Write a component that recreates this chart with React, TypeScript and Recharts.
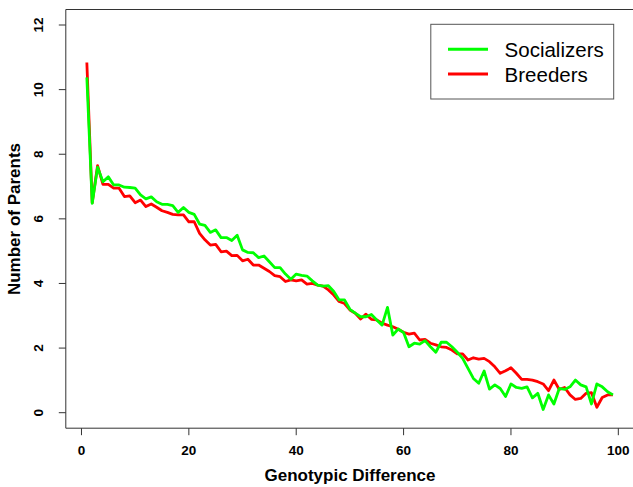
import React from "react";
import { LineChart, Line, XAxis, YAxis, ReferenceArea, Customized } from "recharts";

const diffs = Array.from({ length: 99 }, (_, i) => i + 1);

const socializers = [
  10.38, 6.48, 7.6, 7.15, 7.3, 7.05, 7.05, 6.98, 6.97, 6.95,
  6.74, 6.62, 6.68, 6.53, 6.45, 6.45, 6.41, 6.2, 6.35, 6.2,
  6.14, 5.84, 5.8, 5.58, 5.66, 5.42, 5.42, 5.33, 5.49, 5.04,
  4.96, 4.95, 4.8, 4.85, 4.67, 4.49, 4.49, 4.29, 4.13, 4.29,
  4.25, 4.23, 4.08, 3.95, 3.92, 3.93, 3.75, 3.49, 3.49, 3.2,
  3.08, 2.97, 2.97, 3.04, 2.87, 2.71, 3.26, 2.4, 2.59, 2.48,
  2.04, 2.15, 2.12, 2.23, 2.04, 1.87, 2.18, 2.18, 2.04, 1.87,
  1.68, 1.37, 1.06, 0.91, 1.29, 0.73, 0.86, 0.75, 0.5, 0.89,
  0.78, 0.75, 0.8, 0.46, 0.6, 0.1, 0.55, 0.27, 0.75, 0.72,
  0.8, 1.01, 0.86, 0.8, 0.27, 0.89, 0.8, 0.65, 0.55,
];

const breeders = [
  10.84, 6.5, 7.65, 7.07, 7.07, 6.95, 6.95, 6.69, 6.71, 6.5,
  6.58, 6.38, 6.46, 6.36, 6.25, 6.2, 6.14, 6.12, 6.12, 5.91,
  5.91, 5.55, 5.35, 5.19, 5.21, 4.98, 5.0, 4.86, 4.87, 4.7,
  4.75, 4.57, 4.57, 4.47, 4.37, 4.24, 4.21, 4.06, 4.11, 4.08,
  4.11, 3.98, 4.0, 3.95, 3.92, 3.8, 3.64, 3.44, 3.38, 3.18,
  3.08, 2.9, 3.05, 2.89, 2.87, 2.77, 2.71, 2.66, 2.58, 2.49,
  2.43, 2.46, 2.25, 2.27, 2.15, 2.1, 2.04, 2.02, 1.94, 1.82,
  1.82, 1.63, 1.7, 1.66, 1.68, 1.58, 1.42, 1.22, 1.3, 1.39,
  1.22, 1.03, 1.03, 1.01, 0.96, 0.89, 0.68, 1.01, 0.72, 0.78,
  0.55, 0.41, 0.44, 0.6, 0.62, 0.17, 0.47, 0.55, 0.55,
];

const xTicks = [0, 20, 40, 60, 80, 100];
const yTicks = [0, 2, 4, 6, 8, 10, 12];

const seriesNames = ["Socializers", "Breeders"];
const seriesColors = ["#00FF00", "#FF0000"];

const data = diffs.map((d, i) => ({ d, s: socializers[i], b: breeders[i] }));

const FONT = "'Liberation Sans', Arial, Helvetica, sans-serif";

const YTick = (props: any) => {
  const { x, y, payload } = props;
  return (
    <text
      x={x}
      y={y}
      transform={`rotate(-90, ${x}, ${y})`}
      textAnchor="middle"
      fontFamily={FONT}
      fontWeight="bold"
      fontSize={13.5}
      fill="#000"
    >
      {payload.value}
    </text>
  );
};

const Overlay = () => (
  <g fontFamily={FONT}>
    <text x={350} y={481} textAnchor="middle" fontWeight="bold" fontSize={17} fill="#000">
      Genotypic Difference
    </text>
    <text
      x={19.5}
      y={219}
      transform="rotate(-90, 19.5, 219)"
      textAnchor="middle"
      fontWeight="bold"
      fontSize={17}
      fill="#000"
    >
      Number of Parents
    </text>
    <rect x={430.8} y={24.3} width={182.9} height={74.7} fill="#fff" stroke="#555" strokeWidth={1} />
    {seriesNames.map((n, i) => (
      <g key={n}>
        <line x1={448} x2={488} y1={49.3 + i * 24.7} y2={49.3 + i * 24.7} stroke={seriesColors[i]} strokeWidth={3} />
        <text x={504.6} y={57 + i * 24.7} fontSize={20.5} fill="#000">
          {n}
        </text>
      </g>
    ))}
  </g>
);

export default function App() {
  return (
    <div style={{ position: "absolute", left: 0, top: 0, width: 633, height: 487, overflow: "hidden", background: "#fff" }}>
      <LineChart
        width={640}
        height={487}
        data={data}
        margin={{ top: 9.5, right: 6, bottom: 28.8, left: 0 }}
      >
        <XAxis
          dataKey="d"
          type="number"
          domain={[-2.92, 102.92]}
          allowDataOverflow
          ticks={xTicks}
          height={30}
          axisLine={false}
          tickLine={{ stroke: "#333" }}
          tickSize={7}
          tickMargin={10}
          tick={{ fontFamily: FONT, fontWeight: "bold", fontSize: 13.5, fill: "#000" }}
          interval={0}
        />
        <YAxis
          type="number"
          domain={[-0.48, 12.48]}
          allowDataOverflow
          ticks={yTicks}
          width={65.8}
          axisLine={false}
          tickLine={{ stroke: "#333" }}
          tickSize={7}
          tickMargin={15.5}
          tick={<YTick />}
          interval={0}
        />
        <ReferenceArea
          x1={-2.92}
          x2={102.92}
          y1={-0.48}
          y2={12.48}
          fill="none"
          fillOpacity={0}
          stroke="#333"
          strokeWidth={1}
          ifOverflow="visible"
        />
        <Line
          dataKey="b"
          name={seriesNames[1]}
          stroke={seriesColors[1]}
          strokeWidth={2.8}
          dot={false}
          strokeLinejoin="round"
          isAnimationActive={false}
        />
        <Line
          dataKey="s"
          name={seriesNames[0]}
          stroke={seriesColors[0]}
          strokeWidth={2.8}
          dot={false}
          strokeLinejoin="round"
          isAnimationActive={false}
        />
        <Customized component={Overlay} />
      </LineChart>
    </div>
  );
}
